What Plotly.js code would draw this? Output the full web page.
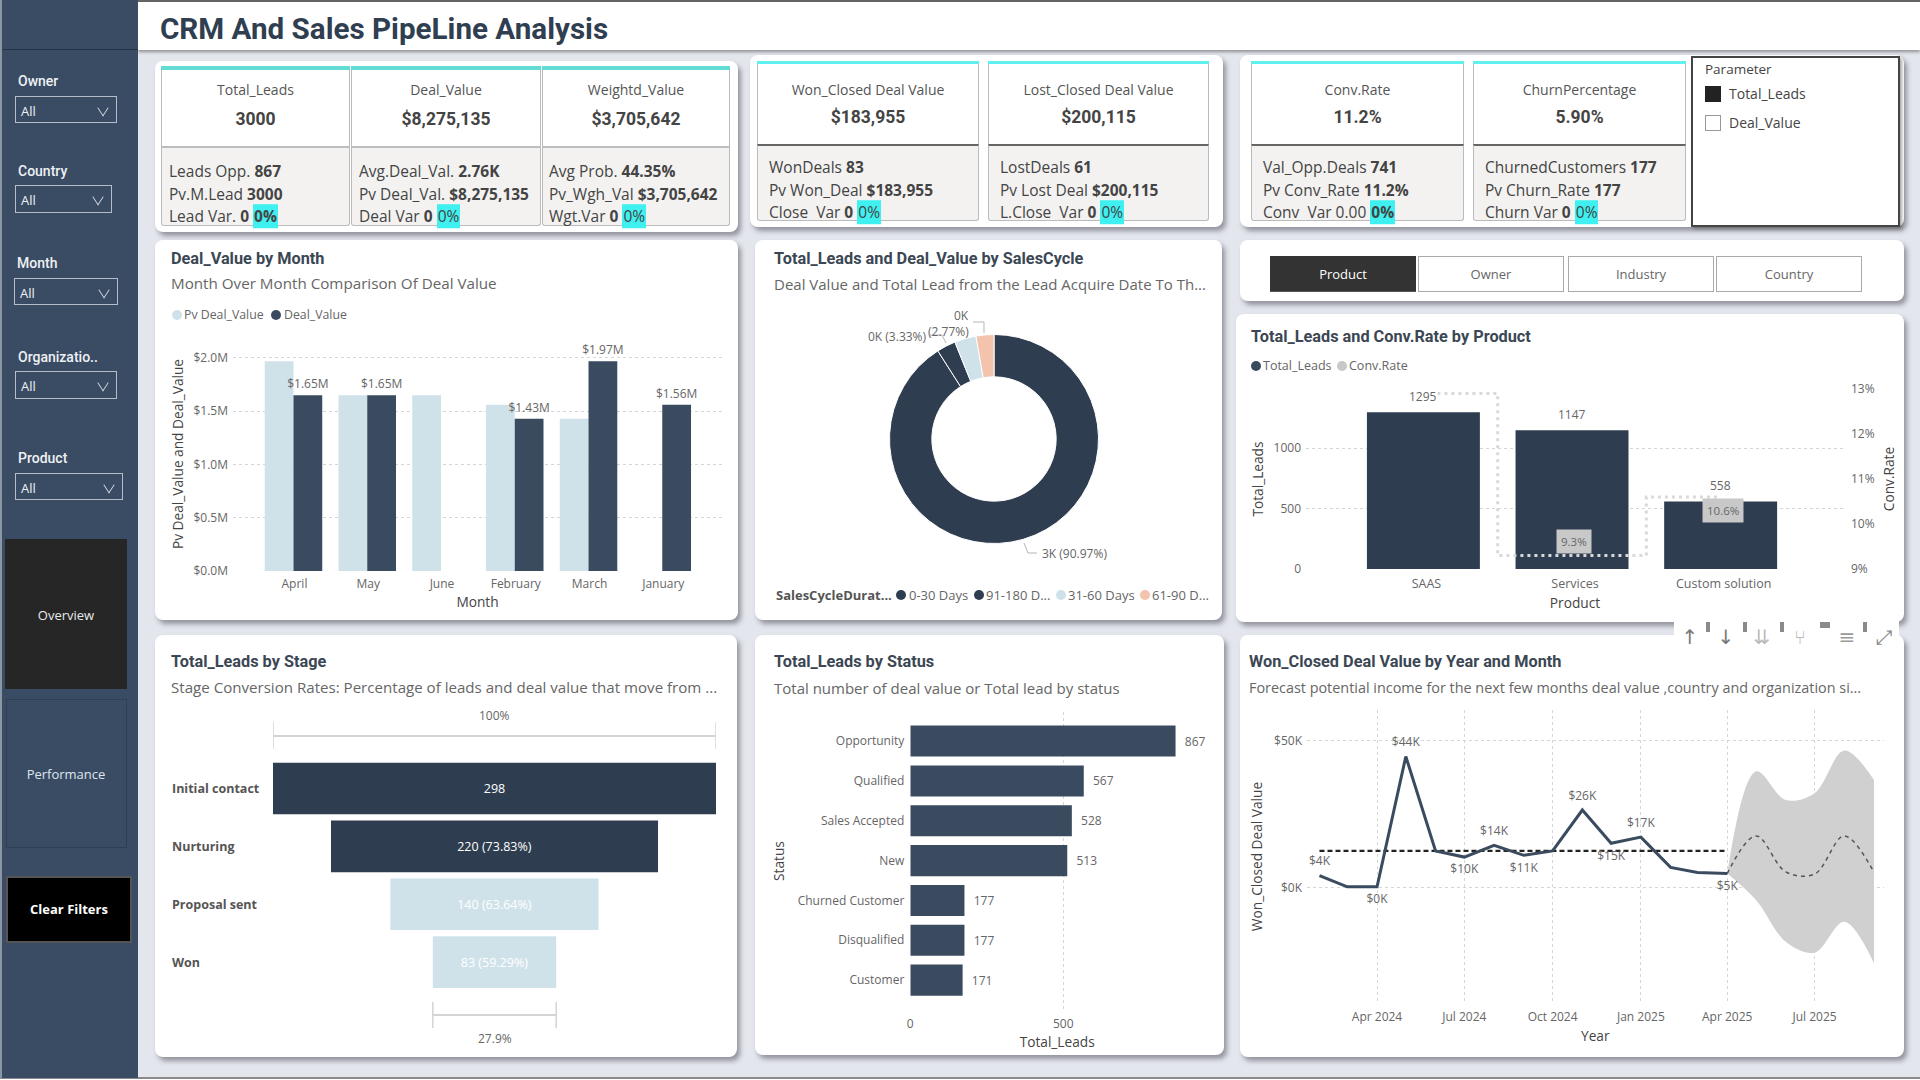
<!DOCTYPE html>
<html><head><meta charset="utf-8">
<script src="https://cdn.plot.ly/plotly-3.0.1.min.js"></script>
<style>
html,body{margin:0;padding:0;background:#fff;overflow:hidden}
#page{position:relative;width:1920px;height:1080px;overflow:hidden;font-family:"Open Sans",sans-serif;background:#fff}
#page div,#page span{box-sizing:border-box}
.t{position:absolute;white-space:nowrap;line-height:1}
.c{position:absolute;background:#fff;border-radius:8px;box-shadow:3px 4px 5px rgba(80,80,90,.55)}
.hl{background:#3ff0f0;padding:1px 1px}
#plot{position:absolute;left:0;top:0;width:1920px;height:1080px}
</style></head><body><div id="page"><div id="plot"></div></div>
<script>
// ---- data ----
const months=['April','May','June','February','March','January'];
const pvDealValue=[1.97,1.65,1.65,1.56,1.43,null];
const dealValue=[1.65,1.65,null,1.43,1.97,1.56];
const cycleLabels=['0-30 Days','91-180 Days','31-60 Days','61-90 Days'];
const cycleValues=[2729,88,100,83];
const products=['SAAS','Services','Custom solution'];
const productLeads=[1295,1147,558];
const productConv=[12.9,9.3,10.6];
const stages=['Initial contact','Nurturing','Proposal sent','Won'];
const stageValues=[298,220,140,83];
const stageText=['298','220 (73.83%)','140 (63.64%)','83 (59.29%)'];
const statuses=['Opportunity','Qualified','Sales Accepted','New','Churned Customer','Disqualified','Customer'];
const statusValues=[867,567,528,513,177,177,171];
const wonDates=['2024-02-01','2024-03-01','2024-04-01','2024-05-01','2024-06-01','2024-07-01','2024-08-01','2024-09-01','2024-10-01','2024-11-01','2024-12-01','2025-01-01','2025-02-01','2025-03-01','2025-04-01'];
const wonValues=[4.1,0.3,0.3,44.6,12.5,10.4,14.4,11,12.5,26.4,15.1,17.2,6.9,5.2,4.8];
const wonLabels=['$4K','','$0K','$44K','','$10K','$14K','$11K','','$26K','$15K','$17K','','','$5K'];
const wonLabelSide=['top center','top center','bottom center','top center','top center','bottom center','top center','bottom center','top center','top center','bottom center','top center','top center','top center','bottom center'];
const wonMean=[12.5,12.5];
const wonMeanDates=['2024-02-01','2025-04-01'];
const wonTickVals=[0,50];
const wonTickText=['$0K','$50K'];
const fcDates=['2025-04-01','2025-05-01','2025-06-01','2025-07-01','2025-08-01','2025-09-01'];
const fcValues=[4.8,17.6,5.4,4.6,17.6,5.2];
const fcUpper=[4.8,39.5,29.8,32.1,46.6,36.6];
const fcLower=[4.8,-4.2,-18.4,-22.1,-11.6,-25.7];
const filterNames=['Owner','Country','Month','Organizatio..','Product'];
const tabNames=['Product','Owner','Industry','Country'];

// ---- palette, fonts, helpers ----
const DARK='#2e3d4f',MID='#3a4b60',LIGHT='#d0e2e9',PEACH='#f3c3ad',GREY='#666',SIDE='#3a4c63';
const BODY='"Open Sans",sans-serif',DIN='Roboto,sans-serif';
const page=document.getElementById('page');
function box(x,y,w,h,css,parent){const d=document.createElement('div');d.style.cssText=`position:absolute;left:${x}px;top:${y}px;width:${w}px;height:${h}px;${css||''}`;(parent||page).insertBefore(d,parent?null:document.getElementById('plot'));return d;}
function T(x,y,html,o,parent){o=o||{};const d=document.createElement('div');d.className='t';d.innerHTML=html;
 const tx=o.a==='c'?'-50%':(o.a==='r'?'-100%':'0');
 d.style.cssText=`left:${x}px;top:${y}px;transform:translate(${tx},-50%);font-size:${o.s||13}px;color:${o.c||GREY};font-weight:${o.w||400};font-family:${o.f||BODY};letter-spacing:${o.ls||0}px`;
 (parent||page).insertBefore(d,parent?null:document.getElementById('plot'));return d;}
function card(x0,y0,x1,y1){const d=document.createElement('div');d.className='c';d.style.cssText=`left:${x0}px;top:${y0}px;width:${x1-x0}px;height:${y1-y0}px`;page.insertBefore(d,document.getElementById('plot'));return d;}
function dot(x,y,col){box(x-5,y-5,10,10,`border-radius:50%;background:${col}`);}
const fx=p=>p/1920, fy=p=>1-p/1080;
const domX=(a,b)=>[fx(a),fx(b)], domY=(top,bot)=>[fy(bot),fy(top)];

// ---- page frame ----
page.style.background='#e4e6ee';
box(0,0,1920,2,'background:#666');
box(138,2,1782,48,'background:#fff;box-shadow:0 2px 3px rgba(90,90,90,.6)');
box(0,1077,1920,3,'background:#fff;border-top:2px solid #8a8a8a');
box(0,0,138,1078,`background:${SIDE};border-left:2px solid #8b97a5`);
box(2,49,136,1,'background:#253449');
T(160,29.5,'CRM And Sales PipeLine Analysis',{s:29.6,w:700,c:'#2f3e50',f:DIN});

// ---- slicers ----
const filterPos=[[18,81,15,96,102,27],[18,171,15,185,97,28],[17,263,14,278,104,27],[18,357,15,371,102,28],[18,458,15,473,108,27]];
filterNames.forEach((n,i)=>{const p=filterPos[i];
 T(p[0],p[1],n,{s:14,w:500,c:'#eef1f5',f:DIN});
 box(p[2],p[3],p[4],p[5],'border:1.5px solid #b4bdc8');
 T(p[2]+6,p[3]+p[5]/2+1,'All',{s:13,c:'#eef1f5'});
 const cx=p[2]+p[4]-13, cy=p[3]+p[5]/2-1;
 box(cx-6,cy-6,10,10,'border-right:1.5px solid #d4dae2;border-bottom:1.5px solid #d4dae2;transform:rotate(45deg) skew(12deg,12deg)');
});
box(5,539,122,150,'background:#262626');
T(66,615,'Overview',{a:'c',s:13,c:'#e9e9e9'});
box(6,699,121,149,'border:1px solid #2f3f52');
T(66,774,'Performance',{a:'c',s:13,c:'#dfe6f0'});
box(6,876,126,67,'background:#000;border:2px solid #555');
T(69,909,'Clear Filters',{a:'c',s:13,w:700,c:'#fff'});

// ---- KPI cards ----
function kpi(k){
 box(k.x0,k.top,k.x1-k.x0,k.div-k.top,`background:#fff;border-left:1px solid #bbb;border-right:1px solid #bbb`);
 box(k.x0,k.top,k.x1-k.x0,k.bar,`background:${k.teal}`);
 box(k.x0,k.div,k.x1-k.x0,k.bot-k.div,`background:#f3f2f1;border-top:2px solid ${k.rule};border-left:1px solid #bbb;border-right:1px solid #bbb;border-bottom:1px solid #bbb;border-radius:0 0 3px 3px`);
 const cx=(k.x0+k.x1)/2;
 T(cx,k.ty,k.title,{a:'c',s:14,c:'#555'});
 T(cx,k.vy,k.value,{a:'c',s:17.5,w:700,c:'#444',f:DIN});
 k.lines.forEach((l,i)=>T(k.lx,k.ly[i],l,{s:15.5,c:'#444'}));
}
card(155,61,738,232);
card(750,55,1223,227);
card(1240,55,1904,227);
const G1={top:66,bar:4,teal:'#62dcd4',rule:'#bdbdbd',div:146,bot:226,ty:90,vy:120,ly:[172,195,217]};
const G2={top:61,bar:3,teal:'#5ff0f0',rule:'#666',div:144,bot:221,ty:90,vy:118,ly:[168,191,213]};
const Z='<span class="hl">0%</span>', ZB='<span class="hl"><b>0%</b></span>';
kpi({...G1,x0:161,x1:350,title:'Total_Leads',value:'3000',lx:169,lines:['Leads Opp. <b>867</b>','Pv.M.Lead <b>3000</b>','Lead Var. <b>0</b> '+ZB]});
kpi({...G1,x0:351,x1:541,title:'Deal_Value',value:'$8,275,135',lx:359,lines:['Avg.Deal_Val. <b>2.76K</b>','Pv Deal_Val. <b>$8,275,135</b>','Deal Var <b>0</b> '+Z]});
kpi({...G1,x0:542,x1:730,title:'Weightd_Value',value:'$3,705,642',lx:549,lines:['Avg Prob. <b>44.35%</b>','Pv_Wgh_Val <b>$3,705,642</b>','Wgt.Var <b>0</b> '+Z]});
kpi({...G2,x0:757,x1:979,title:'Won_Closed Deal Value',value:'$183,955',lx:769,lines:['WonDeals <b>83</b>','Pv Won_Deal <b>$183,955</b>','Close&nbsp; Var <b>0</b> '+Z]});
kpi({...G2,x0:988,x1:1209,title:'Lost_Closed Deal Value',value:'$200,115',lx:1000,lines:['LostDeals <b>61</b>','Pv Lost Deal <b>$200,115</b>','L.Close&nbsp; Var <b>0</b> '+Z]});
kpi({...G2,x0:1251,x1:1464,title:'Conv.Rate',value:'11.2%',lx:1263,lines:['Val_Opp.Deals <b>741</b>','Pv Conv_Rate <b>11.2%</b>','Conv&nbsp; Var 0.00 '+ZB]});
kpi({...G2,x0:1473,x1:1686,title:'ChurnPercentage',value:'5.90%',lx:1485,lines:['ChurnedCustomers <b>177</b>','Pv Churn_Rate <b>177</b>','Churn Var <b>0</b> '+Z]});
box(1691,56,209,171,'background:#fff;border:2px solid #444;box-shadow:2px 2px 3px rgba(80,80,80,.5)');
T(1705,70,'Parameter',{s:13.5,c:'#444'});
box(1705,86,16,16,'background:#222');
T(1729,94,'Total_Leads',{s:14,c:'#444'});
box(1705,115,16,16,'background:#fff;border:1.5px solid #999');
T(1729,123,'Deal_Value',{s:14,c:'#444'});

// ---- tab strip ----
card(1240,240,1904,301);
const tabX=[1270,1418,1568,1716];
tabNames.forEach((n,i)=>{const on=i===0;
 box(tabX[i],256,146,36,on?'background:#333;border-bottom:1px solid #555':'background:#fff;border:1.5px solid #aaa');
 T(tabX[i]+73,274,n,{a:'c',s:13,c:on?'#fff':'#666'});
});

// ---- chart cards and their headings ----
function head(x,y1,title,y2,sub,s2){T(x,y1,title,{s:16.3,w:700,c:'#3b4754',f:DIN});if(sub)T(x,y2,sub,{s:s2,c:'#666'});}
card(155,240,738,620);head(171,259,'Deal_Value by Month',284,'Month Over Month Comparison Of Deal Value',15.2);
card(755,240,1222,620);head(774,259,'Total_Leads and Deal_Value by SalesCycle',284,'Deal Value and Total Lead from the Lead Acquire Date To Th...',15);
card(1236,314,1904,622);head(1251,337,'Total_Leads and Conv.Rate by Product');
card(155,635,737,1057);head(171,662,'Total_Leads by Stage',688,'Stage Conversion Rates: Percentage of leads and deal value that move from ...',15.1);
card(755,635,1224,1055);head(774,662,'Total_Leads by Status',688,'Total number of deal value or Total lead by status',15);
card(1240,635,1904,1057);head(1249,662,'Won_Closed Deal Value by Year and Month',688,'Forecast potential income for the next few months deal value ,country and organization si...',14.4);

// legends
dot(177,315,LIGHT);T(184,315,'Pv Deal_Value',{s:12.3,c:GREY});dot(276,315,MID);T(284,315,'Deal_Value',{s:12.3,c:GREY});
T(776,595,'SalesCycleDurat...',{s:13,w:700,c:'#555'});
dot(901,595,DARK);T(909,595,'0-30 Days',{s:13});dot(979,595,DARK);T(986,595,'91-180 D...',{s:13});
dot(1061,595,LIGHT);T(1068,595,'31-60 Days',{s:13});dot(1145,595,PEACH);T(1152,595,'61-90 D...',{s:13});
dot(1256,366,MID);T(1263,366,'Total_Leads',{s:12.5});dot(1342,366,'#c8c8c8');T(1349,366,'Conv.Rate',{s:12.5});

// visual-header toolbar
box(1674,620,225,28,'background:#fff');
[1708,1745,1782,1825,1865].forEach((x,i)=>box(x-(i===3?5:2),622,i===3?10:4,i===3?6:10,'background:#8a8a8a'));
[['\u2191',1690,'#777'],['\u2193',1726,'#777'],['\u21CA',1762,'#bbb'],['\u2442',1800,'#bbb'],['\u2261',1847,'#999'],['\u2922',1884,'#888']].forEach(g=>T(g[1],637,g[0],{a:'c',s:20,c:g[2],f:'"DejaVu Sans",sans-serif'}));

// ---- traces ----
const tf={family:BODY,size:12,color:GREY}, atf={family:BODY,size:13.7,color:'#444'};
const grid={showgrid:true,gridcolor:'#d6d6d6',griddash:'dot',gridwidth:1,zeroline:false,showline:false,ticks:'',tickfont:tf};
const traces=[
 {type:'bar',xaxis:'x',yaxis:'y',name:'Pv Deal_Value',x:months,y:pvDealValue,width:0.39,offset:-0.39,marker:{color:LIGHT}},
 {type:'bar',xaxis:'x',yaxis:'y',name:'Deal_Value',x:months,y:dealValue,width:0.39,offset:0,marker:{color:MID},texttemplate:'$%{y:.2f}M',textposition:'outside',textfont:tf,cliponaxis:false,textangle:0,constraintext:'none'},
 {type:'pie',labels:cycleLabels,values:cycleValues,sort:false,direction:'clockwise',rotation:0,hole:0.595,textinfo:'none',marker:{colors:[DARK,DARK,LIGHT,PEACH],line:{color:'#fff',width:1}},domain:{x:domX(994-104.5,994+104.5),y:domY(439-104.5,439+104.5)},showlegend:false},
 {type:'bar',xaxis:'x2',yaxis:'y2',name:'Total_Leads',x:products,y:productLeads,width:0.76,offset:-0.38,marker:{color:DARK}},
 {type:'scatter',mode:'lines',xaxis:'x2',yaxis:'y3',name:'Conv.Rate',x:products,y:productConv,line:{shape:'hvh',dash:'3px,4px',width:3,color:'#d9d9d9'}},
 {type:'funnel',orientation:'h',xaxis:'x3',yaxis:'y4',y:stages,x:stageValues,text:stageText,textinfo:'text',textposition:'inside',insidetextanchor:'middle',constraintext:'none',textangle:0,insidetextfont:{family:BODY,size:12.5,color:'#fff'},marker:{color:[DARK,DARK,LIGHT,LIGHT]},connector:{visible:false}},
 {type:'bar',orientation:'h',xaxis:'x4',yaxis:'y5',x:statusValues,y:statuses,width:0.78,offset:-0.39,marker:{color:MID},texttemplate:'\u00a0\u00a0%{x}',textposition:'outside',textfont:tf,cliponaxis:false,constraintext:'none'},
 {type:'scatter',mode:'lines',xaxis:'x5',yaxis:'y6',x:fcDates,y:fcLower,line:{shape:'spline',width:0},hoverinfo:'skip'},
 {type:'scatter',mode:'lines',xaxis:'x5',yaxis:'y6',x:fcDates,y:fcUpper,line:{shape:'spline',width:0},fill:'tonexty',fillcolor:'#d0d0d0',hoverinfo:'skip'},
 {type:'scatter',mode:'lines',xaxis:'x5',yaxis:'y6',x:fcDates,y:fcValues,line:{shape:'spline',dash:'4px,4px',width:1.5,color:'#555'}},
 {type:'scatter',mode:'lines',xaxis:'x5',yaxis:'y6',x:wonMeanDates,y:wonMean,line:{dash:'5px,3px',width:2.2,color:'#222'}},
 {type:'scatter',mode:'lines+markers+text',xaxis:'x5',yaxis:'y6',x:wonDates,y:wonValues,text:wonLabels,textposition:wonLabelSide,textfont:tf,cliponaxis:false,marker:{size:10,opacity:0},line:{width:3,color:MID}}
];

// ---- annotations and shapes ----
const paper=(x,y,text,o)=>Object.assign({xref:'paper',yref:'paper',x:fx(x),y:fy(y),text,showarrow:false,font:tf,xanchor:'center',yanchor:'middle'},o||{});
const annotations=[];
const cycleTotal=cycleValues.reduce((a,b)=>a+b,0);
const pct=v=>(100*v/cycleTotal).toFixed(2)+'%';
const kLab=v=>Math.round(v/1000)+'K';
annotations.push(paper(1074,553,kLab(cycleValues[0])+' ('+pct(cycleValues[0])+')'));
annotations.push(paper(897,336,kLab(cycleValues[2])+' ('+pct(cycleValues[2])+')'));
annotations.push(paper(948,331,'('+pct(cycleValues[3])+')'));
annotations.push(paper(961,316,kLab(cycleValues[3])));
productLeads.forEach((v,i)=>annotations.push({xref:'x2',yref:'y2',x:products[i],y:v,yshift:16,text:String(v),showarrow:false,font:tf,bgcolor:i===0?'#fff':'rgba(0,0,0,0)',borderpad:0}));
[1,2].forEach(i=>annotations.push({xref:'x2',yref:'y3',x:products[i],y:productConv[i],yshift:i===1?14:-13,xshift:2,text:productConv[i]+'%',showarrow:false,font:{family:BODY,size:11.5,color:GREY},bgcolor:'#c8c8c8',borderpad:4}));
stages.forEach((s,i)=>annotations.push({xref:'paper',yref:'y4',x:fx(170),y:s,text:s,xanchor:'left',showarrow:false,font:{family:BODY,size:12.5,color:'#555',weight:700}}));
const fMax=stageValues[0], fMin=stageValues[stageValues.length-1];
annotations.push(paper(494.6,715,'100%'));
annotations.push(paper(494.6,1038,(100*fMin/fMax).toFixed(1)+'%'));

const lead={type:'path',xref:'paper',yref:'paper',line:{color:'#b5b5b5',width:1}};
const P=(x,y)=>fx(x)+','+fy(y);
const path=a=>'M'+a.map(p=>P(p[0],p[1])).join('L');
const vline=(x,y0,y1)=>({type:'line',xref:'x3',yref:'paper',x0:x,x1:x,y0:fy(y0),y1:fy(y1),line:{color:'#d4d4d4',width:1.5}});
const hline=(x0,x1,y)=>({type:'line',xref:'x3',yref:'paper',x0,x1,y0:fy(y),y1:fy(y),line:{color:'#d4d4d4',width:2}});
const shapes=[
 {...lead,path:path([[1024,543],[1028,553],[1037,553]])},
 {...lead,path:path([[973,322],[984,322],[984,333]])},
 {...lead,path:path([[930,335],[942,335],[946,343]])},
 hline(-fMax/2,fMax/2,736),vline(-fMax/2,722,749),vline(fMax/2,722,749),
 hline(-fMin/2,fMin/2,1015),vline(-fMin/2,1002,1028),vline(fMin/2,1002,1028)
];

// ---- layout ----
const layout={
 width:1920,height:1080,margin:{l:0,r:0,t:0,b:0,pad:0},paper_bgcolor:'rgba(0,0,0,0)',plot_bgcolor:'rgba(0,0,0,0)',
 showlegend:false,funnelgap:0.107,font:{family:BODY,color:GREY},annotations,shapes,
 xaxis:{...grid,showgrid:false,domain:domX(233,722),anchor:'y',type:'category',categoryorder:'array',categoryarray:months,range:[-0.82,5.81],ticklabelstandoff:4,ticklabelshift:1,title:{text:'Month',font:atf,standoff:6}},
 yaxis:{...grid,domain:domY(337,571),anchor:'x',range:[0,2.197],tick0:0,dtick:0.5,tickformat:'.1f',tickprefix:'$',ticksuffix:'M',ticklabelstandoff:4,title:{text:'Pv Deal_Value and Deal_Value',font:atf,standoff:6}},
 xaxis2:{...grid,showgrid:false,domain:domX(1306,1844),anchor:'y2',type:'category',categoryorder:'array',categoryarray:products,range:[-0.79,2.83],tickfont:{...tf,size:12.5},ticklabelstandoff:5,ticklabelshift:3,title:{text:'Product',font:atf,standoff:7}},
 yaxis2:{...grid,domain:domY(389,569),anchor:'x2',range:[0,1488],tickvals:[0,500,1000],ticklabelstandoff:4,title:{text:'Total_Leads',font:atf,standoff:6}},
 yaxis3:{...grid,showgrid:false,domain:domY(389,569),anchor:'x2',overlaying:'y2',side:'right',range:[9,13],tick0:9,dtick:1,ticksuffix:'%',ticklabelstandoff:6,title:{text:'Conv.Rate',font:atf,standoff:10}},
 xaxis3:{domain:domX(273,716),anchor:'y4',range:[-fMax/2,fMax/2],visible:false},
 yaxis4:{domain:domY(759.6,991),anchor:'x3',type:'category',categoryorder:'array',categoryarray:stages,range:[3.5,-0.5],visible:false},
 xaxis4:{...grid,domain:domX(910.3,1204),anchor:'y5',range:[0,960],tickvals:[0,500],ticklabelstandoff:5,title:{text:'Total_Leads',font:atf,standoff:5}},
 yaxis5:{...grid,showgrid:false,domain:domY(712,1010),anchor:'x4',type:'category',categoryorder:'array',categoryarray:statuses,range:[6.75,-0.73],ticklabelstandoff:5,title:{text:'Status',font:atf,standoff:9}},
 xaxis5:{...grid,domain:domX(1307,1883.6),anchor:'y6',type:'date',range:['2024-01-19','2025-09-11'],tick0:'2024-04-01',dtick:'M3',tickformat:'%b %Y',ticklabelstandoff:5,title:{text:'Year',font:atf,standoff:7}},
 yaxis6:{...grid,domain:domY(710,1003),anchor:'x5',range:[-39.2,60.4],tickvals:wonTickVals,ticktext:wonTickText,ticklabelstandoff:4,title:{text:'Won_Closed Deal Value',font:atf,standoff:8}}
};
Plotly.newPlot('plot',traces,layout,{displayModeBar:false,staticPlot:true,responsive:false});
</script></body></html>
